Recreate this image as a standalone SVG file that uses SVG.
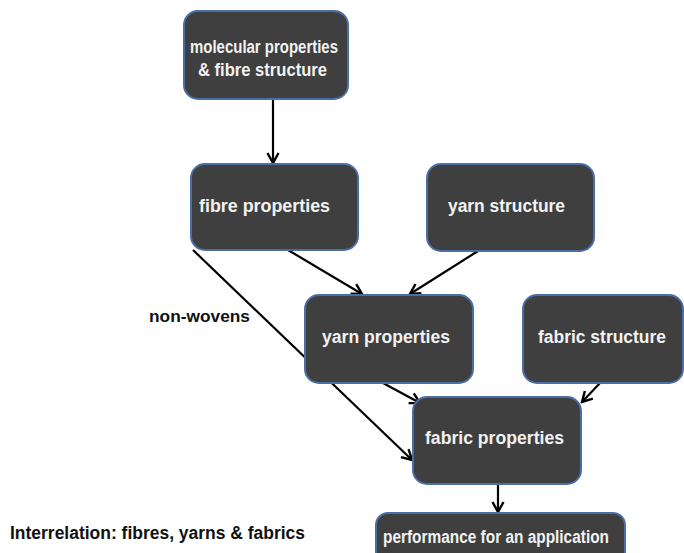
<svg xmlns="http://www.w3.org/2000/svg" width="684" height="553" viewBox="0 0 684 553">
<defs>
<marker id="arr" markerUnits="userSpaceOnUse" markerWidth="14" markerHeight="14" viewBox="0 0 14 14" refX="12" refY="7" orient="auto">
<path d="M2,1.5 L12,7 L2,12.5" fill="none" stroke="#000" stroke-width="2.4"/>
</marker>
</defs>
<style>
.box{fill:#3f3f3f;stroke:#4a6ea8;stroke-width:2}
.t{font-family:"Liberation Sans",Arial,sans-serif;font-weight:bold;font-size:18px;fill:#f2f2f2}
.k{font-family:"Liberation Sans",Arial,sans-serif;font-weight:bold;fill:#111}
.c{stroke:#000;stroke-width:2.2;fill:none;marker-end:url(#arr)}
</style>
<rect width="684" height="553" fill="#fff"/>
<g id="connectors">
<line class="c" x1="273" y1="99" x2="273" y2="163"/>
<line class="c" x1="288" y1="250" x2="362" y2="294"/>
<line class="c" x1="478" y1="251" x2="410" y2="294"/>
<line class="c" x1="193" y1="250" x2="412" y2="460"/>
<line class="c" x1="383" y1="383" x2="420" y2="403"/>
<line class="c" x1="600" y1="383" x2="582" y2="402"/>
<line class="c" x1="498" y1="484" x2="498" y2="512"/>
</g>
<g id="n-molecular">
<rect class="box" x="184" y="11" width="164" height="88" rx="14"/>
<text class="t" x="264" y="53" text-anchor="middle" textLength="148" lengthAdjust="spacingAndGlyphs">molecular properties</text>
<text class="t" x="262.5" y="76" text-anchor="middle" textLength="129" lengthAdjust="spacingAndGlyphs">&amp; fibre structure</text>
</g>
<g id="n-fibre">
<rect class="box" x="191" y="164" width="167" height="86" rx="14"/>
<text class="t" x="199" y="212" textLength="131" lengthAdjust="spacingAndGlyphs">fibre properties</text>
</g>
<g id="n-yarnstructure">
<rect class="box" x="427" y="164" width="167" height="87" rx="14"/>
<text class="t" x="448" y="212" textLength="117" lengthAdjust="spacingAndGlyphs">yarn structure</text>
</g>
<g id="n-yarnprops">
<rect class="box" x="305" y="295" width="168" height="88" rx="14"/>
<text class="t" x="322" y="343" textLength="128" lengthAdjust="spacingAndGlyphs">yarn properties</text>
</g>
<g id="n-fabricstructure">
<rect class="box" x="523" y="295" width="160" height="88" rx="14"/>
<text class="t" x="538" y="343" textLength="128" lengthAdjust="spacingAndGlyphs">fabric structure</text>
</g>
<g id="n-fabricprops">
<rect class="box" x="413" y="397" width="168" height="87" rx="14"/>
<text class="t" x="425" y="444" textLength="139" lengthAdjust="spacingAndGlyphs">fabric properties</text>
</g>
<g id="n-performance">
<rect class="box" x="376" y="513" width="249" height="56" rx="12"/>
<text class="t" x="383" y="543" textLength="226" lengthAdjust="spacingAndGlyphs">performance for an application</text>
</g>
<g id="labels">
<text class="k" x="149" y="322" font-size="16.5" textLength="101" lengthAdjust="spacingAndGlyphs">non-wovens</text>
<text class="k" x="10" y="539" font-size="18" textLength="295" lengthAdjust="spacingAndGlyphs">Interrelation: fibres, yarns &amp; fabrics</text>
</g>
</svg>
